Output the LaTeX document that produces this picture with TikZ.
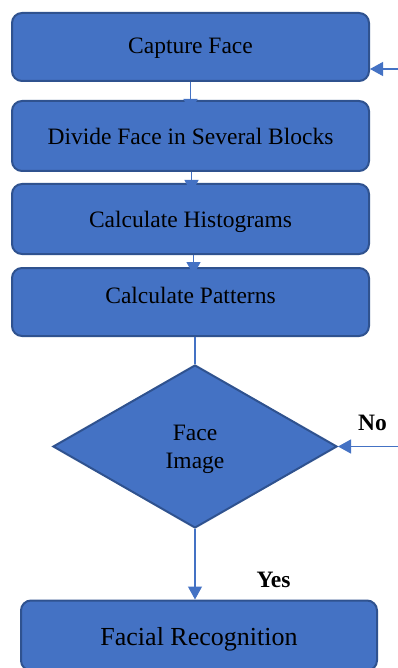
\documentclass[tikz,border=0pt]{standalone}
\usepackage{fontspec}
\setmainfont{Liberation Serif}
\usetikzlibrary{shapes.geometric,arrows.meta,calc}
\definecolor{boxfill}{HTML}{4472C4}
\definecolor{boxedge}{HTML}{2F528F}
\definecolor{linkcol}{HTML}{4472C4}
\tikzset{
  stepbox/.style={rectangle, rounded corners=10pt, draw=boxedge, line width=2pt, fill=boxfill,
    inner sep=0pt, text depth=0pt, font=\fontsize{23.5}{28}\selectfont, text=black},
  decbox/.style={diamond, draw=boxedge, line width=2pt, fill=boxfill, inner sep=0pt,
    minimum width=284pt, minimum height=163pt},
  link/.style={draw=linkcol, line width=1.2pt},
  arr/.style={link, -{Triangle[length=13pt,width=14pt]}},
  lbl/.style={font=\fontsize{23.5}{28}\selectfont\bfseries, inner sep=0pt}
}
\begin{document}
\begin{tikzpicture}[x=1pt,y=-1pt]
\clip (0,0) rectangle (398,668);
\fill[white] (0,0) rectangle (398,668);
\node[stepbox, minimum width=357pt, minimum height=68pt, text height=14pt] (b1) at (190.5,47) {Capture Face};
\node[stepbox, minimum width=357pt, minimum height=70pt, text height=18pt] (b2) at (190.5,136) {Divide Face in Several Blocks};
\node[stepbox, minimum width=357pt, minimum height=70pt, text height=16pt] (b3) at (190.5,219) {Calculate Histograms};
\node[stepbox, minimum width=357pt, minimum height=68pt, text height=2pt] (b4) at (190.5,302) {Calculate Patterns};
\node[decbox] (d) at (195,446.5) {};
\node[font=\fontsize{23.5}{28}\selectfont, inner sep=0pt, anchor=base] (dt1) at (195,440) {Face};
\node[font=\fontsize{23.5}{28}\selectfont, inner sep=0pt, anchor=base] (dt2) at (195,468) {Image};
\node[stepbox, minimum width=356pt, minimum height=70pt, text height=19pt, font=\fontsize{26}{30}\selectfont] (b5) at (199,635.5) {Facial Recognition};
\coordinate (in1) at (398,69);
\coordinate (in2) at (398,446.5);
\draw[arr] (b1.south) -- ($(b2.north)+(0,12)$);
\draw[arr] ($(b2.south)+(1,0)$) -- ($(b3.north)+(1,10)$);
\draw[arr] ($(b3.south)+(3,0)$) -- ($(b4.north)+(3,8)$);
\draw[link] (b4.south -| d.north) -- (d.north);
\draw[arr] (d.south) -- (b5.north -| d.south);
\draw[arr] (in1) -- (b1.east |- in1);
\draw[arr] (in2) -- (d.east);
\node[lbl] (no) at (372.5,423) {No};
\node[lbl] (yes) at (273.5,580) {Yes};
\end{tikzpicture}
\end{document}
